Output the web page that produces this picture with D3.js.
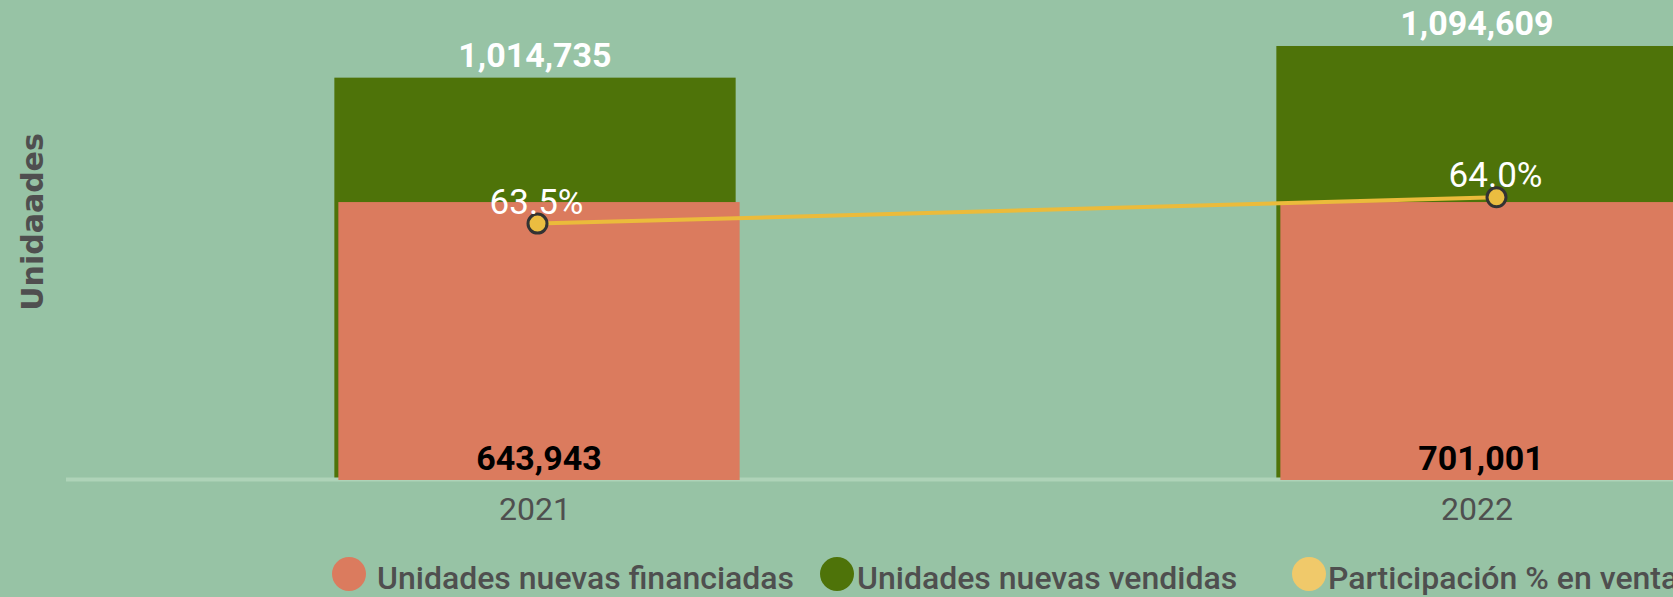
<!DOCTYPE html>
<html>
<head>
<meta charset="utf-8">
<script src="https://cdn.jsdelivr.net/npm/d3@7"></script>
<style>
  html, body { margin: 0; padding: 0; background: #97c3a5; overflow: hidden; }
  svg { display: block; }
</style>
</head>
<body>
<svg id="chart" width="1673" height="597"></svg>
<script>
// ---- data ----
const years = ["2021", "2022"];
const sold = [1014735, 1094609];            // Unidades nuevas vendidas
const financed = [643943, 701001];          // Unidades nuevas financiadas (labels)
// bar lengths of the financed series as drawn in the reference picture
const financedDrawn = [701001, 701001];
const share = [63.46, 64.04];               // Participación % en ventas
const legendLabels = ["Unidades nuevas financiadas", "Unidades nuevas vendidas", "Participación % en ventas"];
const legendColors = ["#db7b5e", "#4e7309", "#f0c96a"];
const yTitle = "Unidaades";

// ---- layout ----
const W = 1673, H = 597;
const baseY = 480;
const svg = d3.select("#chart");
svg.append("rect").attr("width", W).attr("height", H).attr("fill", "#97c3a5");

const x = d3.scaleBand().domain(years).range([64, 1948]).paddingInner(0.574).paddingOuter(0.287);
const xLine = d3.scalePoint().domain(years).range([58, 1976]).padding(0.5);
const y = d3.scaleLinear().domain([0, 1200000]).range([baseY, baseY - 1200000 * 3.965e-4]);
const yPct = d3.scaleLinear().domain([57.8, 66.3]).range([baseY, baseY - 8.5 * 45.3]);
const fmt = d3.format(",");
const salmonShift = 4;

// green bars (sold)
svg.append("g").selectAll("rect").data(years).join("rect")
  .attr("x", d => x(d))
  .attr("y", (d, i) => y(sold[i]))
  .attr("width", x.bandwidth())
  .attr("height", (d, i) => y(0) - y(sold[i]) - 2)
  .attr("fill", "#4e7309");

// axis baseline
const axis = d3.axisBottom(x).tickSize(0).tickPadding(0);
const axG = svg.append("g").attr("transform", `translate(0,${baseY - 0.5})`).call(axis);
axG.select(".domain").attr("d", `M66,0H${W}`).attr("stroke", "#aed3b8").attr("stroke-width", 4);
axG.selectAll(".tick text")
  .attr("y", 18)
  .attr("font-family", "Roboto")
  .attr("font-size", 32)
  .attr("fill", "#4f4f4f");

// salmon bars (financed)
svg.append("g").selectAll("rect").data(years).join("rect")
  .attr("x", d => x(d) + salmonShift)
  .attr("y", (d, i) => y(financedDrawn[i]))
  .attr("width", x.bandwidth())
  .attr("height", (d, i) => y(0) - y(financedDrawn[i]))
  .attr("fill", "#db7b5e");

// sold labels
svg.append("g").selectAll("text").data(years).join("text")
  .attr("x", d => x(d) + x.bandwidth() / 2)
  .attr("y", (d, i) => y(sold[i]) - 11)
  .attr("text-anchor", "middle")
  .attr("font-family", "Roboto")
  .attr("font-weight", 700)
  .attr("font-size", 34)
  .attr("fill", "#ffffff")
  .text((d, i) => fmt(sold[i]));

// financed labels
svg.append("g").selectAll("text").data(years).join("text")
  .attr("x", d => x(d) + salmonShift + x.bandwidth() / 2)
  .attr("y", baseY - 10)
  .attr("text-anchor", "middle")
  .attr("font-family", "Roboto")
  .attr("font-weight", 700)
  .attr("font-size", 34)
  .attr("fill", "#000000")
  .text((d, i) => fmt(financed[i]));

// share line
const line = d3.line().x((d, i) => xLine(years[i])).y(d => yPct(d));
svg.append("path").datum(share)
  .attr("d", line)
  .attr("fill", "none")
  .attr("stroke", "#ebbb3b")
  .attr("stroke-width", 4);

svg.append("g").selectAll("circle").data(share).join("circle")
  .attr("cx", (d, i) => xLine(years[i]))
  .attr("cy", d => yPct(d))
  .attr("r", 9.5)
  .attr("fill", "#ebbd40")
  .attr("stroke", "#333333")
  .attr("stroke-width", 3);

svg.append("g").selectAll("text").data(share).join("text")
  .attr("x", (d, i) => xLine(years[i]) - 1)
  .attr("y", d => yPct(d) - 10)
  .attr("text-anchor", "middle")
  .attr("font-family", "Roboto")
  .attr("font-size", 35)
  .attr("fill", "#ffffff")
  .text(d => d3.format(".1f")(d) + "%");

// y-axis title
svg.append("text")
  .attr("transform", "translate(43,222) rotate(-90)")
  .attr("text-anchor", "middle")
  .attr("font-family", "DejaVu Sans")
  .attr("font-weight", 700)
  .attr("font-size", 30)
  .attr("fill", "#4f4f4f")
  .text(yTitle);

// legend
const legendCx = [349, 837, 1309];
const legendTextX = [377, 857, 1328];
const lg = svg.append("g");
lg.selectAll("circle").data(legendLabels).join("circle")
  .attr("cx", (d, i) => legendCx[i])
  .attr("cy", 574)
  .attr("r", 17)
  .attr("fill", (d, i) => legendColors[i]);
lg.selectAll("text").data(legendLabels).join("text")
  .attr("x", (d, i) => legendTextX[i])
  .attr("y", 589)
  .attr("font-family", "Roboto")
  .attr("font-weight", 500)
  .attr("font-size", 32)
  .attr("fill", "#4f4f4f")
  .text(d => d);
</script>
</body>
</html>
